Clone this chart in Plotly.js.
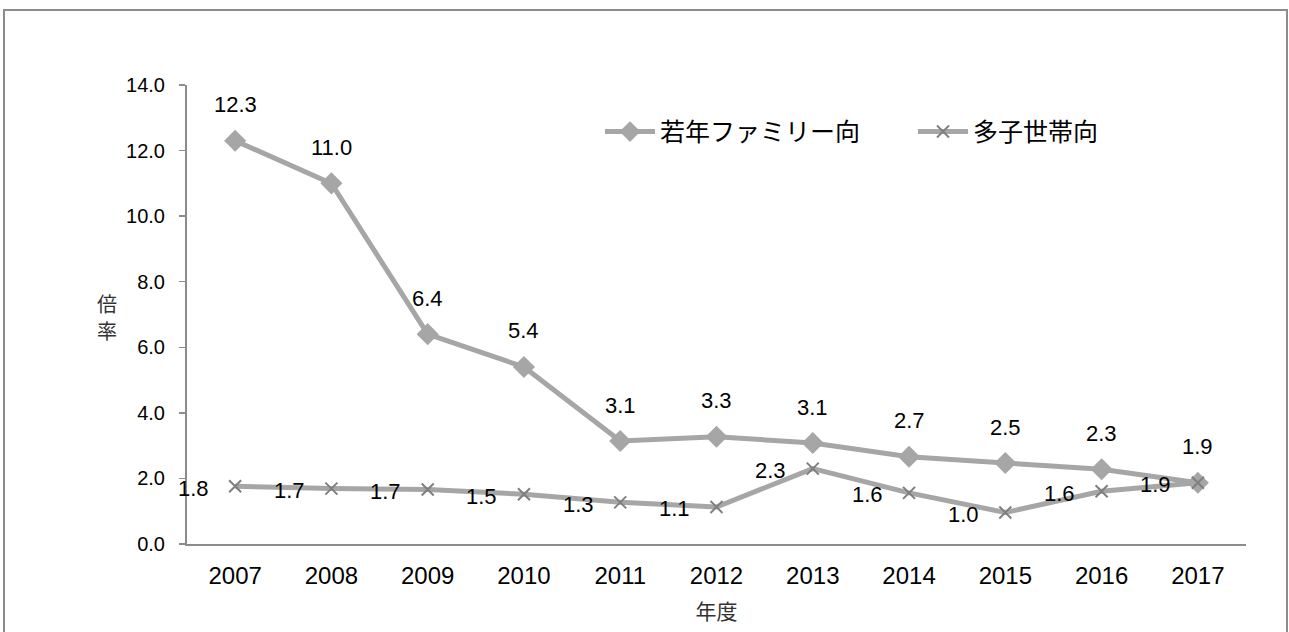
<!DOCTYPE html>
<html>
<head>
<meta charset="utf-8">
<script src="https://cdn.plot.ly/plotly-3.0.1.min.js"></script>
<style>
html,body{margin:0;padding:0;background:#fff;}
#chart{width:1289px;height:632px;}
</style>
</head>
<body>
<div id="chart"></div>
<script>
const years = [2007, 2008, 2009, 2010, 2011, 2012, 2013, 2014, 2015, 2016, 2017];
const youngFamily = [12.3, 11.0, 6.4, 5.4, 3.14, 3.27, 3.08, 2.66, 2.47, 2.28, 1.87];
const multiChild = [1.76, 1.69, 1.66, 1.52, 1.27, 1.13, 2.30, 1.56, 0.96, 1.61, 1.87];
const seriesNames = ['若年ファミリー向', '多子世帯向'];
const yTicks = [0, 2, 4, 6, 8, 10, 12, 14];
const yTitleChars = ['倍', '率'];

const numFont = 'Liberation Sans, Arial, sans-serif';
const jpFont = 'Noto Sans CJK JP, sans-serif';

const traces = [
  {
    x: years, y: youngFamily, name: seriesNames[0], type: 'scatter', mode: 'lines+markers',
    line: {color: '#A6A6A6', width: 5},
    marker: {symbol: 'diamond', size: 17, color: '#A6A6A6'}
  },
  {
    x: years, y: multiChild, name: seriesNames[1], type: 'scatter', mode: 'lines+markers',
    line: {color: '#A6A6A6', width: 5},
    marker: {symbol: 'x-thin', size: 12, color: '#7F7F7F', line: {color: '#7F7F7F', width: 2}}
  }
];

const annotations = [];
years.forEach((yr, i) => {
  annotations.push({x: yr, y: youngFamily[i], xref: 'x', yref: 'y', text: youngFamily[i].toFixed(1),
    showarrow: false, yshift: 36, font: {family: numFont, size: 22, color: '#000'}});
  annotations.push({x: yr, y: multiChild[i], xref: 'x', yref: 'y', text: multiChild[i].toFixed(1),
    showarrow: false, xshift: -42, yshift: -2, font: {family: numFont, size: 22, color: '#000'}});
});
yTitleChars.forEach((ch, i) => {
  annotations.push({x: -0.0755, y: 0.525 - i * 0.059, xref: 'paper', yref: 'paper',
    xanchor: 'center', yanchor: 'middle', text: ch, showarrow: false,
    font: {family: jpFont, size: 20, color: '#333'}});
});

const layout = {
  width: 1289, height: 632,
  margin: {l: 187, r: 43, t: 85, b: 88, autoexpand: false},
  paper_bgcolor: '#fff', plot_bgcolor: '#fff',
  showlegend: true,
  legend: {orientation: 'h', x: 0.39, y: 0.898, xanchor: 'left', yanchor: 'middle',
    itemwidth: 50, entrywidth: 248, entrywidthmode: 'pixels',
    font: {family: jpFont, size: 25, color: '#000'}, bgcolor: 'rgba(0,0,0,0)'},
  xaxis: {
    type: 'linear', range: [2006.5, 2017.5], tickvals: years, ticktext: years.map(String),
    showgrid: false, zeroline: false,
    showline: true, linecolor: '#8C8C8C', linewidth: 2,
    ticks: '', tickfont: {family: numFont, size: 24, color: '#000'}, ticklabelstandoff: 9,
    title: {text: '年度', font: {family: jpFont, size: 21, color: '#333'}, standoff: 17},
    automargin: false
  },
  yaxis: {
    range: [0, 14], tickvals: yTicks, ticktext: yTicks.map(v => v.toFixed(1)),
    showgrid: false, zeroline: false, showline: true, linecolor: '#8C8C8C', linewidth: 2,
    ticks: 'outside', ticklen: 6, tickcolor: '#8C8C8C', tickwidth: 1.5,
    tickfont: {family: numFont, size: 20, color: '#000'}, ticklabelstandoff: 10,
    automargin: false
  },
  annotations: annotations,
  shapes: [{type: 'rect', xref: 'paper', yref: 'paper', x0: -0.1728, x1: 1.0387, y0: -0.25, y1: 1.1634,
    line: {color: '#8C8C8C', width: 2}, layer: 'below'}]
};

Plotly.newPlot('chart', traces, layout, {displayModeBar: false, staticPlot: true});
</script>
</body>
</html>
